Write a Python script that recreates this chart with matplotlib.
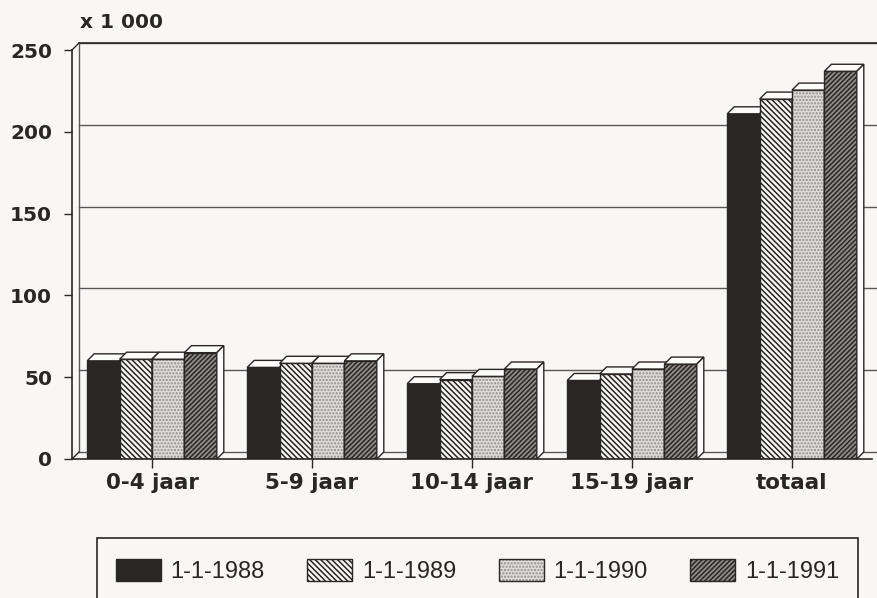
import matplotlib
matplotlib.use("Agg")
import matplotlib.pyplot as plt
from matplotlib.patches import Polygon, Patch, Rectangle
import numpy as np

# data (x 1 000)
categories = ['0-4 jaar', '5-9 jaar', '10-14 jaar', '15-19 jaar', 'totaal']
series = ['1-1-1988', '1-1-1989', '1-1-1990', '1-1-1991']
v1988 = [60, 56, 46, 48, 211]
v1989 = [61, 58.5, 48.5, 52, 220]
v1990 = [61, 58.5, 50.5, 55, 225.5]
v1991 = [65, 60, 55, 58, 237]
yticks = [0, 50, 100, 150, 200, 250]

INK = '#2a2624'
PAPER = '#f8f7f4'
FACE_3D = '#fbfbf9'

# fill, hatch, hatch colour per series
styles = [
    (INK, None, INK),
    (PAPER, '\\' * 6, INK),
    ('#dedddA', '.....', '#8f8e8b'),
    ('#8e8d8a', '/' * 7, INK),
]

plt.rcParams['font.family'] = ['DejaVu Sans']
plt.rcParams['hatch.linewidth'] = 1.1

W, H = 877, 598
fig = plt.figure(figsize=(W / 100, H / 100), dpi=100, facecolor=PAPER)
ax_l, ax_b, ax_w, ax_h = 72, 139, 800, 409
ax = fig.add_axes([ax_l / W, ax_b / H, ax_w / W, ax_h / H])
ax.set_facecolor('none')
ax.set_xlim(-0.5, 4.5)
ax.set_ylim(0, 250)

# 3d depth, in data units (7 px right and up)
depth = 7
dx = depth / (ax_w / 5)
dy = depth / (ax_h / 250)

# back wall + floor
wall = dict(color='#5a5856', lw=1.0, clip_on=False, zorder=1)
for y in yticks[1:]:
    ax.plot([-0.5 + dx, 4.5 + 2 * dx], [y + dy, y + dy], **wall)
ax.plot([-0.5 + dx, 4.5 + 2 * dx], [250 + dy, 250 + dy], color=INK, lw=1.2, clip_on=False, zorder=1)
ax.plot([-0.5 + dx, 4.5 + dx], [dy, dy], **wall)
ax.plot([-0.5 + dx, -0.5 + dx], [dy, 250 + dy], **wall)
ax.plot([-0.5, -0.5 + dx], [250, 250 + dy], color=INK, lw=1.0, clip_on=False, zorder=1)
ax.plot([-0.5, -0.5 + dx], [0, dy], color=INK, lw=1.0, clip_on=False, zorder=1)

# bars
w = 0.2025
idx = np.arange(len(categories))
handles = []
for j, vals in enumerate([v1988, v1989, v1990, v1991]):
    face, hatch, hcol = styles[j]
    z = 2 + j * 0.1
    xs = idx + (j - 1.5) * w
    ax.bar(xs, vals, w, color=face, edgecolor=hcol, lw=0, hatch=hatch, zorder=z)
    ax.bar(xs, vals, w, fill=False, edgecolor=INK, lw=1.0, zorder=z)
    for x, h in zip(xs, vals):
        x0, x1 = x - w / 2, x + w / 2
        ax.add_patch(Polygon([(x0, h), (x1, h), (x1 + dx, h + dy), (x0 + dx, h + dy)],
                             facecolor=FACE_3D, edgecolor=INK, lw=1.0, zorder=z, clip_on=False))
        ax.add_patch(Polygon([(x1, 0), (x1 + dx, dy), (x1 + dx, h + dy), (x1, h)],
                             facecolor=FACE_3D, edgecolor=INK, lw=1.0, zorder=z, clip_on=False))
    handles.append((Patch(facecolor=face, edgecolor=hcol, lw=0, hatch=hatch),
                    Patch(fill=False, edgecolor=INK, lw=1.0)))

# axes
for s in ['top', 'right']:
    ax.spines[s].set_visible(False)
for s in ['left', 'bottom']:
    ax.spines[s].set_color(INK)
    ax.spines[s].set_linewidth(1.2)
ax.spines['left'].set_zorder(5)
ax.spines['bottom'].set_zorder(5)
ax.set_yticks(yticks)
ax.set_yticklabels([str(t) for t in yticks], fontsize=14.5, fontweight='bold', color=INK)
ax.set_xticks(idx)
ax.set_xticklabels(categories, fontsize=15.5, fontweight='bold', color=INK)
ax.tick_params(axis='y', length=5.8, width=1.0, pad=8.5, color=INK)
ax.tick_params(axis='x', length=6.5, width=1.0, pad=3.5, color=INK)

fig.text(80 / W, 1 - 23 / H, 'x 1 000', ha='left', va='center',
         fontsize=14.5, fontweight='bold', color=INK)

# legend box (bottom cut off by the page edge)
fig.patches.append(Rectangle((97 / W, -0.05), (858 - 97) / W, (H - 538) / H + 0.05,
                             transform=fig.transFigure, facecolor=PAPER,
                             edgecolor=INK, lw=1.2, zorder=0))
fig.legend(handles, series, loc='center', bbox_to_anchor=(477.5 / W, 27 / H), ncol=4,
           frameon=False, handlelength=1.9, handleheight=1.1,
           handletextpad=0.42, columnspacing=1.8, labelcolor=INK,
           prop={'family': 'Liberation Sans', 'size': 17})

fig.savefig('out.png', dpi=100, facecolor=PAPER)
